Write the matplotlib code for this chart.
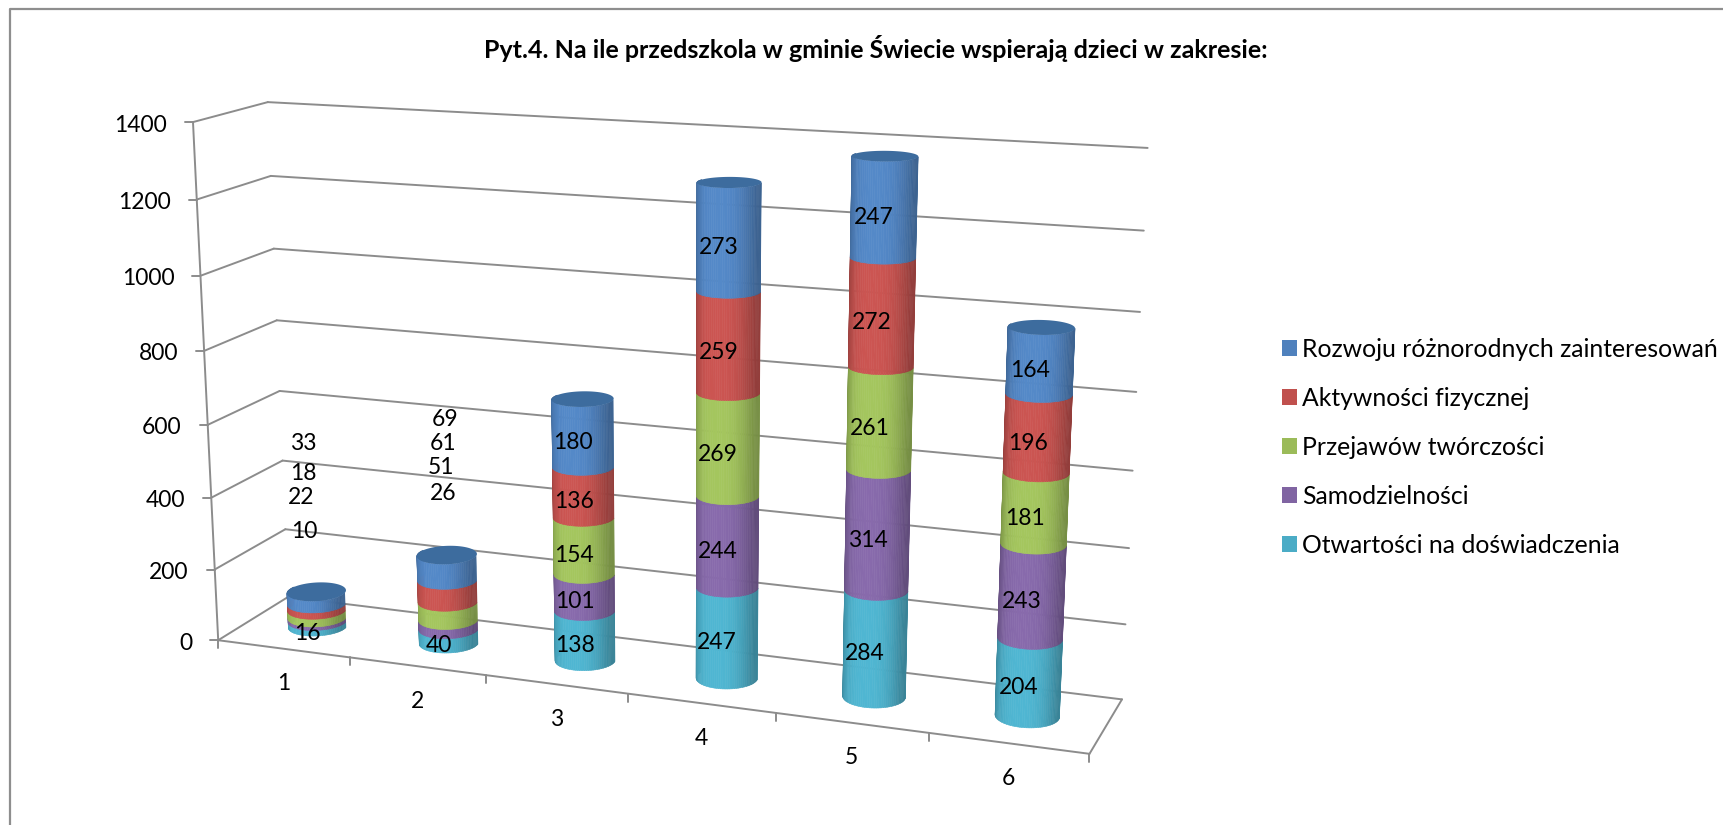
import numpy as np
import matplotlib
matplotlib.use("Agg")
import matplotlib.pyplot as plt
from matplotlib.collections import PolyCollection
from matplotlib.colors import to_rgb
from matplotlib.patches import Patch

plt.rcParams['font.family'] = ['Lato', 'DejaVu Sans']

# data
title = "Pyt.4. Na ile przedszkola w gminie Świecie wspierają dzieci w zakresie:"
categories = [1, 2, 3, 4, 5, 6]
otwartosci = [16, 40, 138, 247, 284, 204]
samodzielnosci = [10, 26, 101, 244, 314, 243]
przejawy = [22, 51, 154, 269, 261, 181]
aktywnosci = [18, 61, 136, 259, 272, 196]
rozwoj = [33, 69, 180, 273, 247, 164]
yticks = [0, 200, 400, 600, 800, 1000, 1200, 1400]

series = [otwartosci, samodzielnosci, przejawy, aktywnosci, rozwoj]
names = ["Otwartości na doświadczenia", "Samodzielności", "Przejawów twórczości",
         "Aktywności fizycznej", "Rozwoju różnorodnych zainteresowań"]
colors = ["#4BACC6", "#8064A2", "#9BBB59", "#C0504D", "#4F81BD"]

# 3d box of the chart -> pixels, (category, value, depth) : (px, py)
calib = [
    (0.5, 1400, 0, 193, 122), (0.5, 1200, 0, 197, 199), (0.5, 600, 0, 208, 424),
    (0.5, 400, 0, 212, 497), (0.5, 200, 0, 214, 569), (0.5, 0, 0, 218, 639),
    (0.5, 1400, 1, 268, 102), (0.5, 1200, 1, 271, 176), (0.5, 600, 1, 279, 391),
    (0.5, 400, 1, 283, 460), (0.5, 200, 1, 285, 529), (0.5, 0, 1, 289, 596),
    (6.5, 1400, 1, 1147, 146), (6.5, 1200, 1, 1145, 231), (6.5, 1000, 1, 1140, 312),
    (6.5, 800, 1, 1136, 392), (6.5, 600, 1, 1132, 471), (6.5, 400, 1, 1130, 549),
    (6.5, 200, 1, 1126, 625), (6.5, 0, 1, 1121, 698),
    (1.5, 0, 0, 350, 658), (2.5, 0, 0, 486, 676), (3.5, 0, 0, 628, 694),
    (4.5, 0, 0, 776, 713), (5.5, 0, 0, 929, 733), (6.5, 0, 0, 1090, 753),
    (1, 0, .5, 317.5, 627), (2, 0, .5, 449, 645), (3, 0, .5, 585, 660),
    (4, 0, .5, 726.5, 678), (5, 0, .5, 874, 695), (6, 0, .5, 1028, 715),
    (1, 99, .5, 316.5, 593), (2, 247, .5, 446.5, 555), (3, 709, .5, 582, 400),
    (4, 1292, .5, 729, 183), (5, 1378, .5, 885, 157), (6, 988, .5, 1041, 328),
]


def fit_camera(points):
    rows = []
    for x, v, d, u, w in points:
        X = [x, v / 1000, d, 1]
        rows.append(X + [0, 0, 0, 0] + [-u / 1000 * c for c in X])
        rows.append([0, 0, 0, 0] + X + [-w / 1000 * c for c in X])
    return np.linalg.svd(np.array(rows))[2][-1].reshape(3, 4)


P = fit_camera(calib)


def proj(x, v, d):
    x, v, d = np.broadcast_arrays(x, v, d)
    h = P @ np.array([x, v / 1000, d, np.ones_like(x, dtype=float)], dtype=float)
    return h[0] / h[2] * 1000, h[1] / h[2] * 1000


fig = plt.figure(figsize=(17.24, 8.25), dpi=100)
ax = fig.add_axes([0, 0, 1, 1])
ax.set_xlim(0, 1724)
ax.set_ylim(825, 0)
ax.axis("off")

# frame of the chart, only top and left are in the picture
ax.plot([10, 10, 1724], [825, 9, 9], color="#8E8E8E", lw=1.6, zorder=1)

grid = "#8C8C8C"
x0, x1 = 0.5, 6.5


def seg(a, b, lw=1.4):
    ax.plot([a[0], b[0]], [a[1], b[1]], color=grid, lw=lw, zorder=2, solid_capstyle="round")


for t in yticks:
    a, b, c = proj(x0, t, 0), proj(x0, t, 1), proj(x1, t, 1)
    seg(a, b)
    seg(b, c)
    seg((a[0] - 8, a[1]), a)
    ax.text(a[0] - 26, a[1] + 3, str(t), ha="right", va="center", fontsize=16.5, zorder=6)

# left axis and floor
seg(proj(x0, 0, 0), proj(x0, 1400, 0))
seg(proj(x0, 0, 0), proj(x1, 0, 0))
seg(proj(x1, 0, 0), proj(x1, 0, 1))
for k in np.arange(x0, x1 + 0.5):
    p = proj(k, 0, 0)
    seg(p, (p[0], p[1] + 8))
for c in categories:
    p = proj(c, 0, 0)
    ax.text(p[0], p[1] + 35, str(c), ha="center", va="center", fontsize=16.5, zorder=6)

# cylinders, one shaded strip per small angle step
r_x, r_d = 0.20, 0.21
angles = np.linspace(np.pi - 0.2, 2 * np.pi + 0.2, 49)
cap_angles = np.linspace(0, 2 * np.pi, 73)


def circle(c, v, t):
    return proj(c + r_x * np.cos(t), np.full_like(t, v), 0.5 + r_d * np.sin(t))


for i, c in enumerate(categories):
    base = 0
    for vals, col in zip(series, colors):
        top = base + vals[i]
        lo = circle(c, base, angles)
        hi = circle(c, top, angles)
        rgb = np.array(to_rgb(col))
        polys, faces = [], []
        for k in range(len(angles) - 1):
            polys.append([(lo[0][k], lo[1][k]), (lo[0][k + 1], lo[1][k + 1]),
                          (hi[0][k + 1], hi[1][k + 1]), (hi[0][k], hi[1][k])])
            s = abs(np.cos((angles[k] + angles[k + 1]) / 2))
            faces.append(np.clip(rgb * (1.06 - 0.30 * s ** 3), 0, 1))
        ax.add_collection(PolyCollection(polys, facecolors=faces, edgecolors=faces, linewidths=0.4, zorder=3))
        base = top
    cap = circle(c, base, cap_angles)
    ax.fill(cap[0], cap[1], color="#3D6C9E", lw=0, zorder=4)

# value labels sit left of the middle of each band
moved_labels = {  # the small values that the chart moved off the cylinder
    (0, 1): (304, 531), (0, 2): (301, 498), (0, 3): (303, 473), (0, 4): (303, 443),
    (1, 1): (443, 494), (1, 2): (441, 468), (1, 3): (443, 443), (1, 4): (445, 419),
}
for i, c in enumerate(categories):
    base = 0
    for j, vals in enumerate(series):
        mid = base + vals[i] / 2
        base += vals[i]
        if (i, j) in moved_labels:
            lx, ly = moved_labels[(i, j)]
        else:
            p = proj(c, mid, 0.5)
            lx, ly = p[0] - 10, p[1] + 10
        ax.text(lx, ly, str(vals[i]), ha="center", va="center", fontsize=16.5, zorder=6)

ax.text(876, 48, title, ha="center", va="center", fontsize=18, fontweight="bold", zorder=6)

handles = [Patch(facecolor=col, label=n) for n, col in zip(names, colors)][::-1]
ax.legend(handles=handles, loc="center left", bbox_to_anchor=(1282 / 1724, 1 - 447.5 / 825),
          frameon=False, fontsize=17.8, handlelength=0.62, handleheight=0.62,
          handletextpad=0.2, labelspacing=1.055, borderpad=0, borderaxespad=0)

fig.savefig("out.png", dpi=100)
